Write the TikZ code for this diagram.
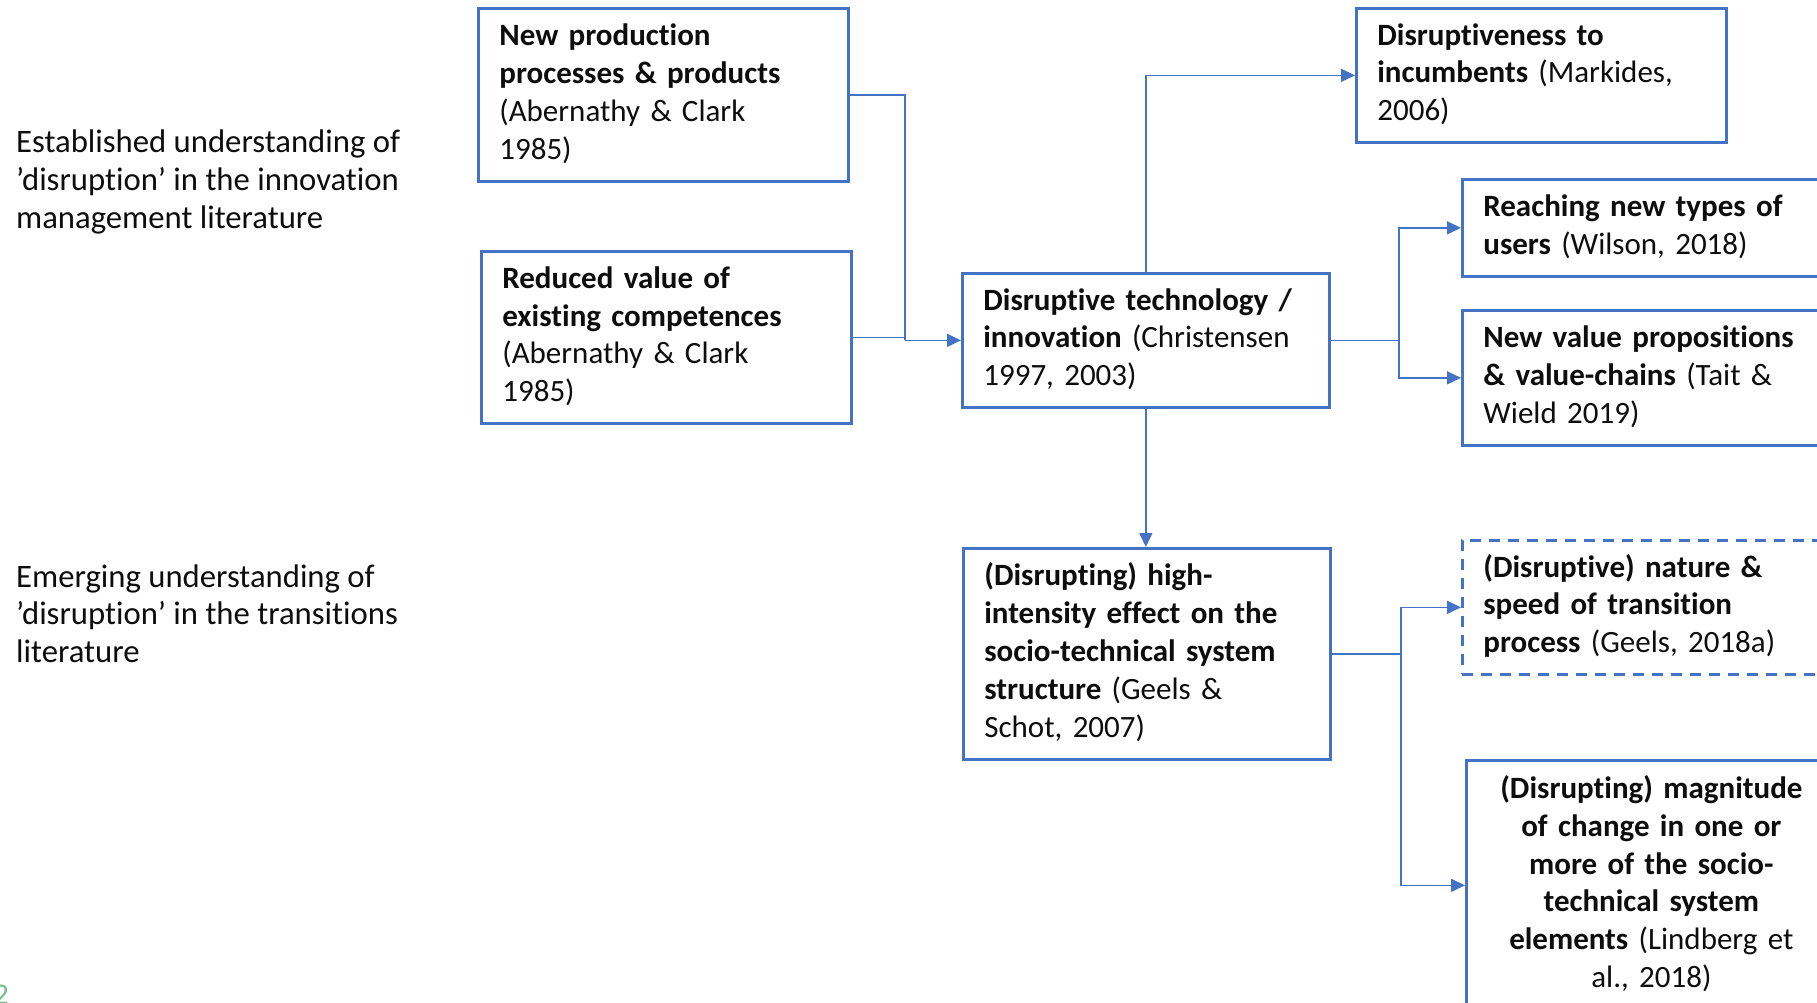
\documentclass[tikz,border=0pt]{standalone}
\usepackage{fontspec}
\setmainfont{Carlito}[Ligatures={NoCommon}]
\usetikzlibrary{arrows.meta}
\definecolor{boxblue}{HTML}{4472C4}
\definecolor{ink}{HTML}{0D0D0D}
\definecolor{slidegreen}{HTML}{70C08A}
\begin{document}
\begin{tikzpicture}[x=1pt,y=-1pt,
  txt/.style={font=\fontsize{31pt}{37.8pt}\selectfont, text=ink},
  box/.style={txt, draw=boxblue, line width=2.7pt, anchor=north west,
    minimum width=370pt, text width=328pt, inner xsep=21pt, inner ysep=0pt,
    align=left, execute at begin node=\strut, execute at end node=\strut},
  midbox/.style={box, minimum width=367pt, text width=325pt},
  dashbox/.style={box, dash pattern=on 11pt off 8pt},
  link/.style={draw=boxblue, line width=1.6pt},
  conn/.style={link, -{Triangle[length=14pt,width=13pt]}},
  lbl/.style={font=\fontsize{32.7pt}{37.8pt}\selectfont, text=ink,
    anchor=base west, align=left, inner sep=0pt}
]
\clip (0,0) rectangle (1817,1003);
\fill[white] (0,0) rectangle (1817,1003);

% side captions (anchored on the baseline of their last line)
\node[lbl] (estab) at (16,228.6) {Established understanding of\\’disruption’ in the innovation\\management literature};
\node[lbl] (emerg) at (16,662.6) {Emerging understanding of\\’disruption’ in the transitions\\literature};

% innovation management boxes
\node[box, minimum height=173pt] (A) at (477,7)
  {\textbf{New production}\\\textbf{processes \& products}\\(Abernathy \& Clark\\1985)};
\node[box, minimum height=172pt] (B) at (480,250)
  {\textbf{Reduced value of}\\\textbf{existing competences}\\(Abernathy \& Clark\\1985)};
\node[midbox, minimum height=134pt] (C) at (961,272)
  {\textbf{Disruptive technology /}\\\textbf{innovation} (Christensen\\1997, 2003)};
\node[box, minimum height=134pt] (D) at (1355,7)
  {\textbf{Disruptiveness to}\\\textbf{incumbents} (Markides,\\2006)};
\node[box, minimum height=97pt] (E) at (1461,178)
  {\textbf{Reaching new types of}\\\textbf{users} (Wilson, 2018)};
\node[box, minimum height=135pt] (F) at (1461,309)
  {\textbf{New value propositions}\\\textbf{\& value-chains} (Tait \&\\Wield 2019)};

% transitions boxes
\node[midbox, minimum height=211pt] (G) at (962,547)
  {\textbf{(Disrupting) high-}\\\textbf{intensity effect on the}\\\textbf{socio-technical system}\\\textbf{structure} (Geels \&\\Schot, 2007)};
\node[dashbox, minimum height=134pt] (H) at (1461,539)
  {\textbf{(Disruptive) nature \&}\\\textbf{speed of transition}\\\textbf{process} (Geels, 2018a)};
\node[box, minimum height=250pt, align=center] (I) at (1465,759)
  {\textbf{(Disrupting) magnitude}\\\textbf{of change in one or}\\\textbf{more of the socio-}\\\textbf{technical system}\\\textbf{elements} (Lindberg et\\al., 2018)};

% slide number in the corner
\node[anchor=north east, inner sep=0pt, text=slidegreen,
  font=\fontsize{30pt}{34pt}\selectfont] (pg) at (9,985) {2};

% junction points of the elbow connectors
\path (C.west) ++(-56,0) coordinate (j1);
\path (C.east) ++(68,0) coordinate (j2);
\path (G.east) ++(69,0) coordinate (j3);

% connectors
\draw[link] (A.east) -| (j1);
\draw[link] (B.east) -| (j1);
\draw[conn] (j1) -- (C.west);
\draw[conn] (C.north) |- (D.west);
\draw[link] (C.east) -- (j2);
\draw[conn] (j2) |- (E.west);
\draw[conn] (j2) |- (F.west);
\draw[conn] (C.south) -- (C.south |- G.north);
\draw[link] (G.east) -- (j3);
\draw[conn] (j3) |- (H.west);
\draw[conn] (j3) |- (I.west);
\end{tikzpicture}
\end{document}
